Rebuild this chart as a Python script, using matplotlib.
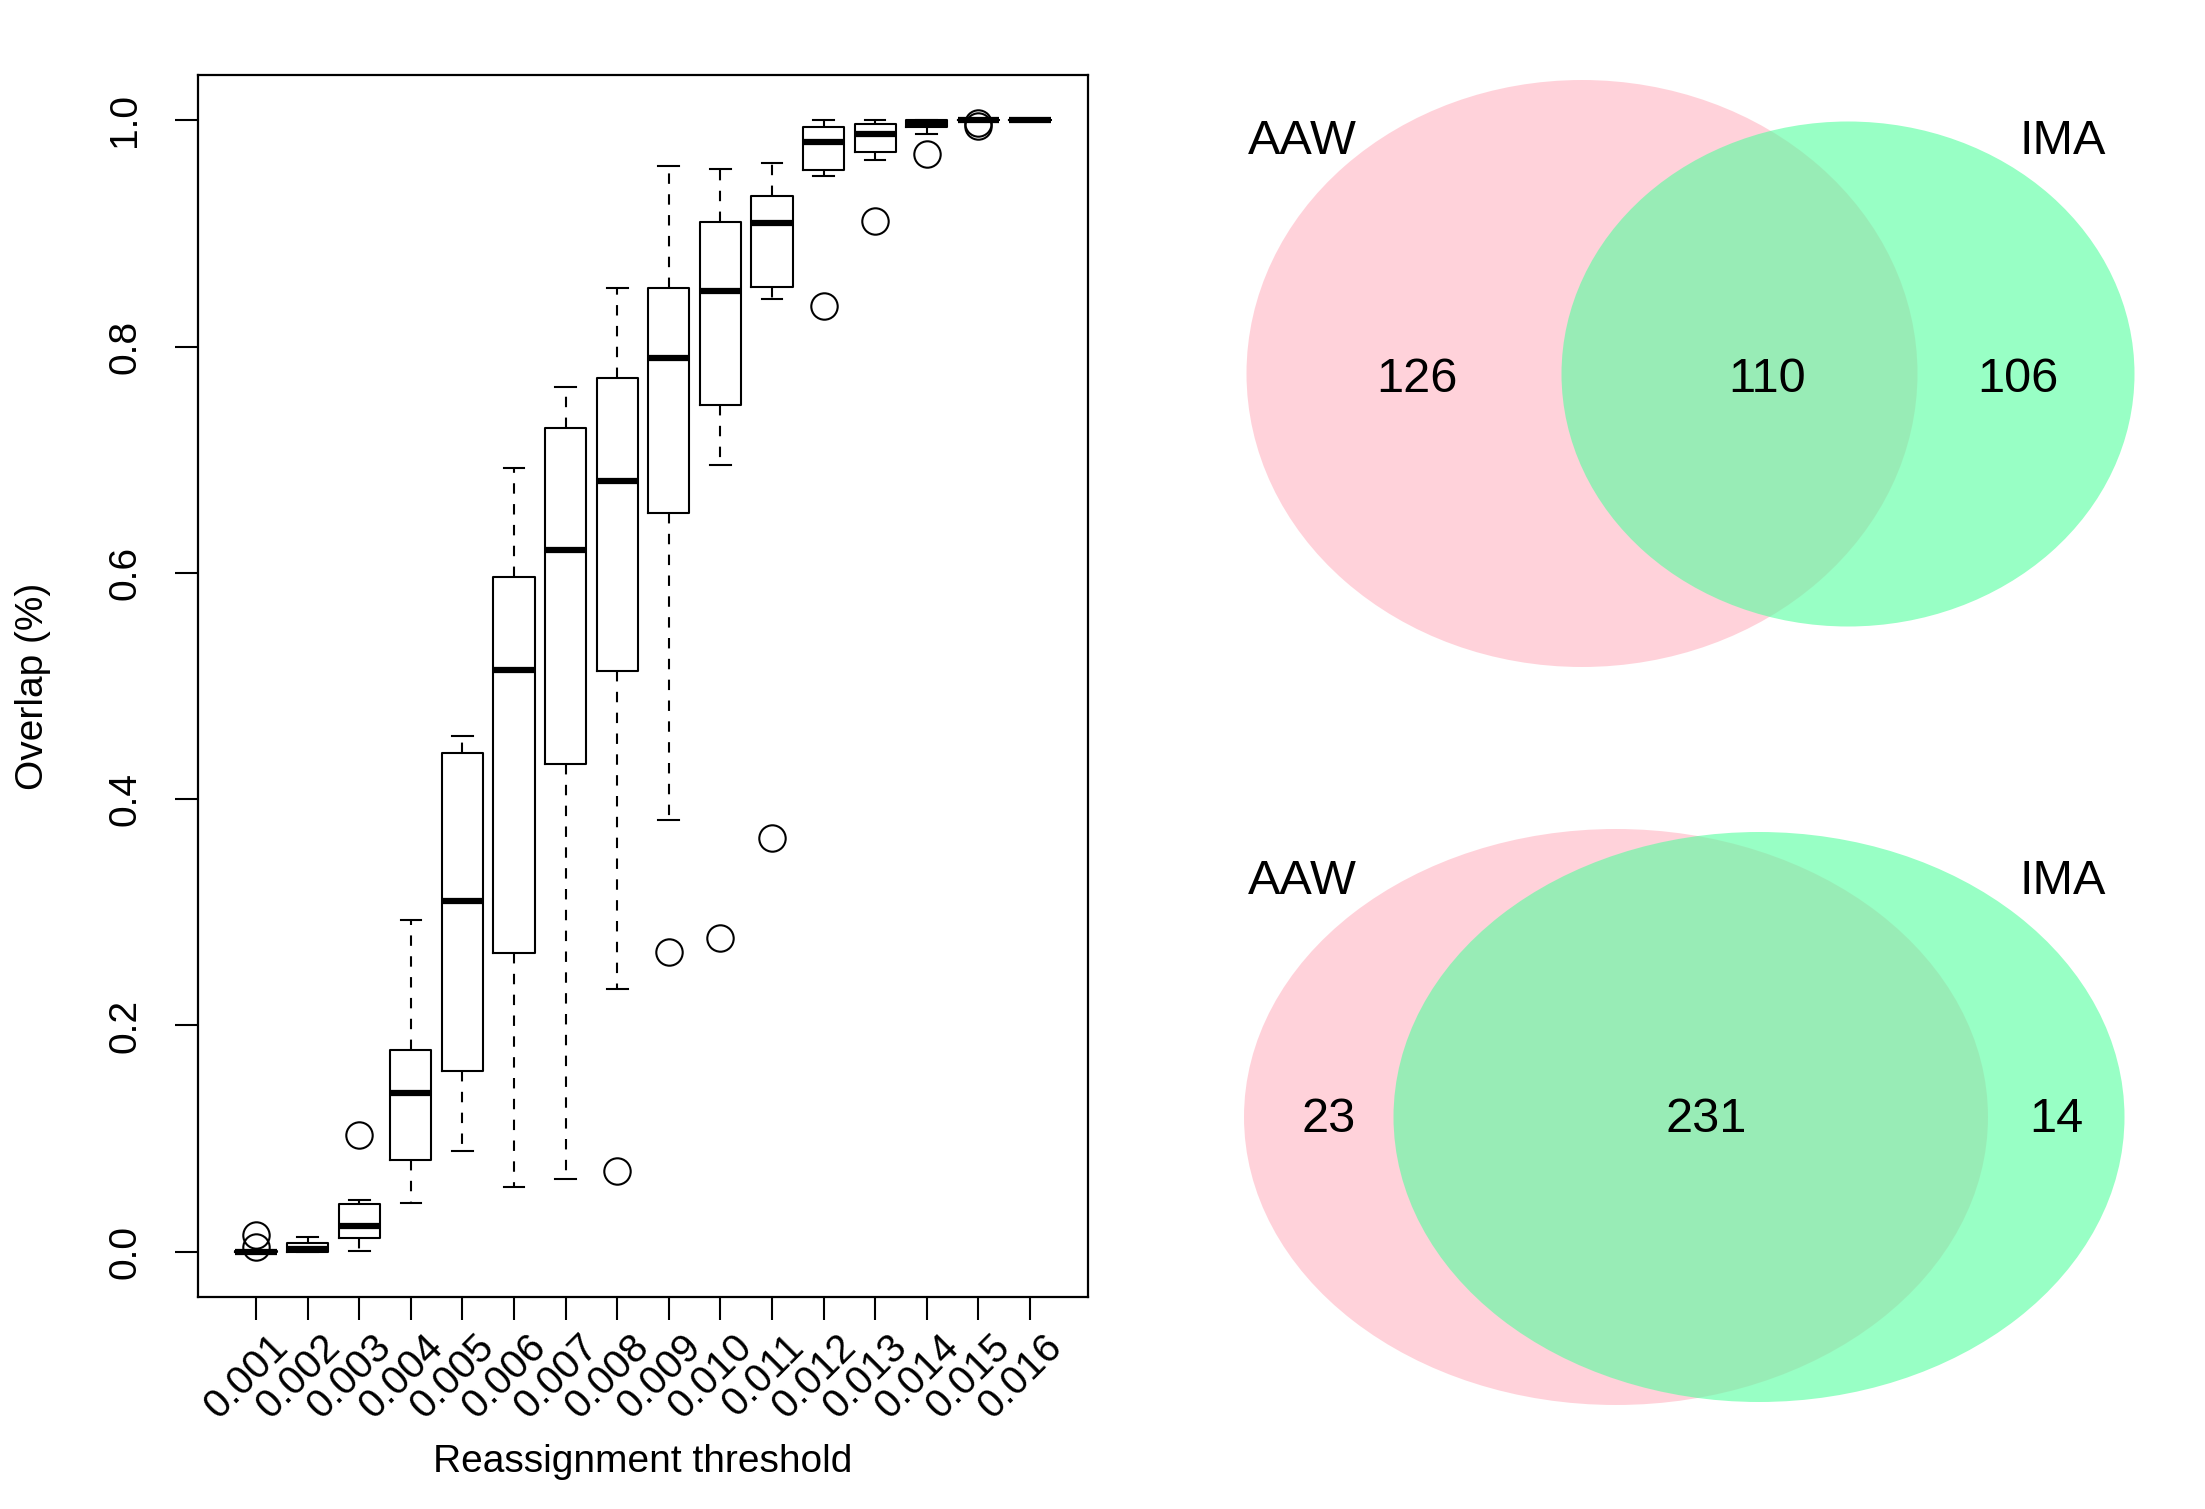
import matplotlib
matplotlib.use("Agg")
import matplotlib.pyplot as plt
from matplotlib.patches import Ellipse
from matplotlib.transforms import blended_transform_factory, ScaledTranslation

plt.rcParams['font.family'] = ['Liberation Sans', 'DejaVu Sans']

# ---------------- data ----------------
thresholds = ["0.001", "0.002", "0.003", "0.004", "0.005", "0.006", "0.007", "0.008",
              "0.009", "0.010", "0.011", "0.012", "0.013", "0.014", "0.015", "0.016"]
whislo = [0.000, 0.000, 0.001, 0.0435, 0.089, 0.057, 0.064, 0.232,
          0.382, 0.695, 0.842, 0.951, 0.965, 0.988, 1.000, 1.000]
q1 = [0.000, 0.000, 0.012, 0.081, 0.160, 0.264, 0.431, 0.513,
      0.653, 0.748, 0.853, 0.956, 0.972, 0.994, 1.000, 1.000]
med = [0.000, 0.002, 0.023, 0.140, 0.310, 0.514, 0.620, 0.681,
       0.790, 0.849, 0.909, 0.981, 0.988, 0.997, 1.000, 1.000]
q3 = [0.001, 0.008, 0.042, 0.178, 0.441, 0.596, 0.728, 0.772,
      0.852, 0.910, 0.933, 0.994, 0.997, 1.000, 1.000, 1.000]
whishi = [0.001, 0.013, 0.046, 0.293, 0.456, 0.693, 0.764, 0.852,
          0.960, 0.957, 0.9625, 1.000, 1.000, 1.000, 1.000, 1.000]
outliers = [[0.015, 0.004], [], [0.103], [], [], [], [], [0.071],
            [0.265], [0.277], [0.366], [0.836], [0.911], [0.970], [0.998, 0.995], []]
yticks = [0.0, 0.2, 0.4, 0.6, 0.8, 1.0]

venn_labels = ["AAW", "IMA"]
venn_top_counts = [126, 110, 106]      # AAW only, both, IMA only
venn_bottom_counts = [23, 231, 14]

# ---------------- figure ----------------
W, H = 2205, 1509
fig = plt.figure(figsize=(W / 100, H / 100), dpi=100)

# Venn diagrams in pixel-space axes
axv = fig.add_axes([0, 0, 1, 1], zorder=0)
axv.set_xlim(0, W)
axv.set_ylim(H, 0)
axv.axis('off')

pink = (1.0, 0.753, 0.796, 0.7)
green = (0.329, 1.0, 0.624, 0.6)
VFS = 35

def venn(pink_geom, green_geom, label_base, count_xs, count_base, counts):
    axv.add_patch(Ellipse(pink_geom[:2], pink_geom[2], pink_geom[3], facecolor=pink, edgecolor='none'))
    axv.add_patch(Ellipse(green_geom[:2], green_geom[2], green_geom[3], facecolor=green, edgecolor='none'))
    axv.text(1248, label_base, venn_labels[0], fontsize=VFS, ha='left', va='baseline')
    axv.text(2106, label_base, venn_labels[1], fontsize=VFS, ha='right', va='baseline')
    for x, c in zip(count_xs, counts):
        axv.text(x, count_base, str(c), fontsize=VFS, ha='center', va='baseline')

venn((1582, 373.5, 671, 587), (1848, 374, 573, 505), 153.5,
     (1417, 1767, 2018), 392, venn_top_counts)
venn((1616, 1117, 744, 576), (1759, 1117, 731, 570), 893.5,
     (1329, 1706, 2056), 1132, venn_bottom_counts)

# Boxplot
ax = fig.add_axes([198 / W, 1 - 1297 / H, 890 / W, 1222 / H], zorder=1)
positions = list(range(1, len(thresholds) + 1))
stats = []
for i in range(len(thresholds)):
    stats.append(dict(med=med[i], q1=q1[i], q3=q3[i], whislo=whislo[i],
                      whishi=whishi[i], fliers=outliers[i]))
lw = 1.5
ax.bxp(stats, positions=positions, widths=0.8, capwidths=0.4, showfliers=True,
       boxprops=dict(color='black', linewidth=lw),
       whiskerprops=dict(color='black', linewidth=lw, linestyle=(0, (5, 5))),
       capprops=dict(color='black', linewidth=lw),
       medianprops=dict(color='black', linewidth=4.5, solid_capstyle='butt'),
       flierprops=dict(marker='o', markerfacecolor='none', markeredgecolor='black',
                       markersize=19, markeredgewidth=1.5))

ax.set_xlim(-0.125, 17.125)
ax.set_ylim(-0.04, 1.04)
for s in ax.spines.values():
    s.set_linewidth(1.6)
ax.set_xticks(positions)
ax.set_xticklabels([])
ax.set_yticks(yticks)
ax.set_yticklabels([f"{v:.1f}" for v in yticks])
ax.tick_params(axis='both', length=16.5, width=1.5, labelsize=28)
ax.tick_params(axis='y', pad=23)
for lab in ax.get_yticklabels():
    lab.set_rotation(90)
    lab.set_va('center')
    lab.set_ha('right')

trans = blended_transform_factory(ax.transData, fig.transFigure) + \
    ScaledTranslation(0.26, 0, fig.dpi_scale_trans)
for p, t in zip(positions, thresholds):
    ax.text(p, 1 - 1341 / H, t, transform=trans, rotation=45, rotation_mode='anchor',
            ha='right', va='center', fontsize=29, clip_on=False)

fig.text(643 / W, 1 - 1472 / H, "Reassignment threshold", ha='center', va='baseline', fontsize=28)
fig.text(33 / W, 1 - 686 / H, "Overlap (%)", ha='center', va='center', rotation=90, fontsize=28)

fig.savefig("out.png", dpi=100, facecolor='white')
